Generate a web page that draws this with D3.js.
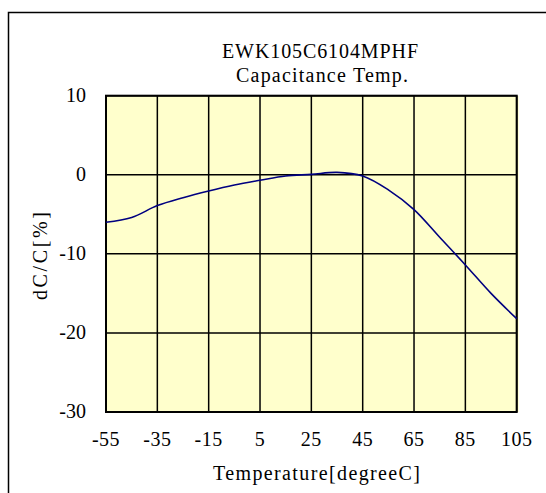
<!DOCTYPE html>
<html><head><meta charset="utf-8">
<script src="https://cdn.jsdelivr.net/npm/d3@7"></script>
<style>body{margin:0;background:#fff}svg{display:block}text{font-family:"Liberation Serif","Times New Roman",serif;fill:#000}</style>
</head><body>
<script>
const temps = [-55,-45,-35,-25,-15,-5,5,15,25,35,45,55,65,75,85,95,105];
const dcc   = [-6.0,-5.4,-3.9,-2.9,-2.05,-1.3,-0.7,-0.15,0.05,0.3,-0.15,-1.9,-4.4,-7.9,-11.4,-15.0,-18.2];
const xTicks = [-55,-35,-15,5,25,45,65,85,105];
const yTicks = [10,0,-10,-20,-30];
const titleLines = ["EWK105C6104MPHF","Capacitance Temp."];
const xTitle = "Temperature[degreeC]", yTitle = "dC/C[%]";

const W=546,H=493;
const svg=d3.select("body").append("svg").attr("width",W).attr("height",H);
const L=106,R=516.7,T=95.7,B=412;
const x=d3.scaleLinear().domain([-55,105]).range([L,R]);
const y=d3.scaleLinear().domain([-30,10]).range([B,T]);

svg.append("rect").attr("x",8.5).attr("y",12.5).attr("width",600).attr("height",600)
  .attr("fill","none").attr("stroke","#000").attr("stroke-width",1.5);

svg.append("rect").attr("x",L).attr("y",T).attr("width",R-L+2).attr("height",B-T).attr("fill","#FFFFCC");

const g=svg.append("g");
g.selectAll(".vg").data(xTicks).join("line").attr("x1",d=>x(d)).attr("x2",d=>x(d)).attr("y1",T).attr("y2",B)
  .attr("stroke","#000").attr("stroke-width",1.5);
g.selectAll(".hg").data(yTicks).join("line").attr("y1",d=>y(d)).attr("y2",d=>y(d)).attr("x1",L).attr("x2",R)
  .attr("stroke","#000").attr("stroke-width",1.5);
svg.append("rect").attr("x",L).attr("y",T).attr("width",R-L).attr("height",B-T).attr("fill","none")
  .attr("stroke","#000").attr("stroke-width",2);

const line=d3.line().x((d,i)=>x(temps[i])).y(d=>y(d)).curve(d3.curveCatmullRom.alpha(0.5));
svg.append("path").attr("d",line(dcc)).attr("fill","none").attr("stroke","#000080").attr("stroke-width",1.6);

svg.selectAll(".yl").data(yTicks).join("text").attr("x",86).attr("y",d=>y(d)).attr("dy","0.3em")
  .attr("text-anchor","end").attr("font-size",20).text(d=>d);
svg.selectAll(".xl").data(xTicks).join("text").attr("x",d=>x(d)).attr("y",446)
  .attr("text-anchor","middle").attr("font-size",20).attr("letter-spacing",0.5).text(d=>d);

svg.append("text").attr("x",316.5).attr("y",480).attr("text-anchor","middle").attr("font-size",20)
  .attr("textLength",207).attr("lengthAdjust","spacing").text(xTitle);
svg.append("text").attr("transform","translate(47,256) rotate(-90)").attr("text-anchor","middle").attr("font-size",20)
  .attr("textLength",88).attr("lengthAdjust","spacing").text(yTitle);
svg.append("text").attr("x",320).attr("y",58).attr("text-anchor","middle").attr("font-size",20)
  .attr("textLength",196).attr("lengthAdjust","spacing").text(titleLines[0]);
svg.append("text").attr("x",322).attr("y",82).attr("text-anchor","middle").attr("font-size",20)
  .attr("textLength",172).attr("lengthAdjust","spacing").text(titleLines[1]);
</script>
</body></html>
